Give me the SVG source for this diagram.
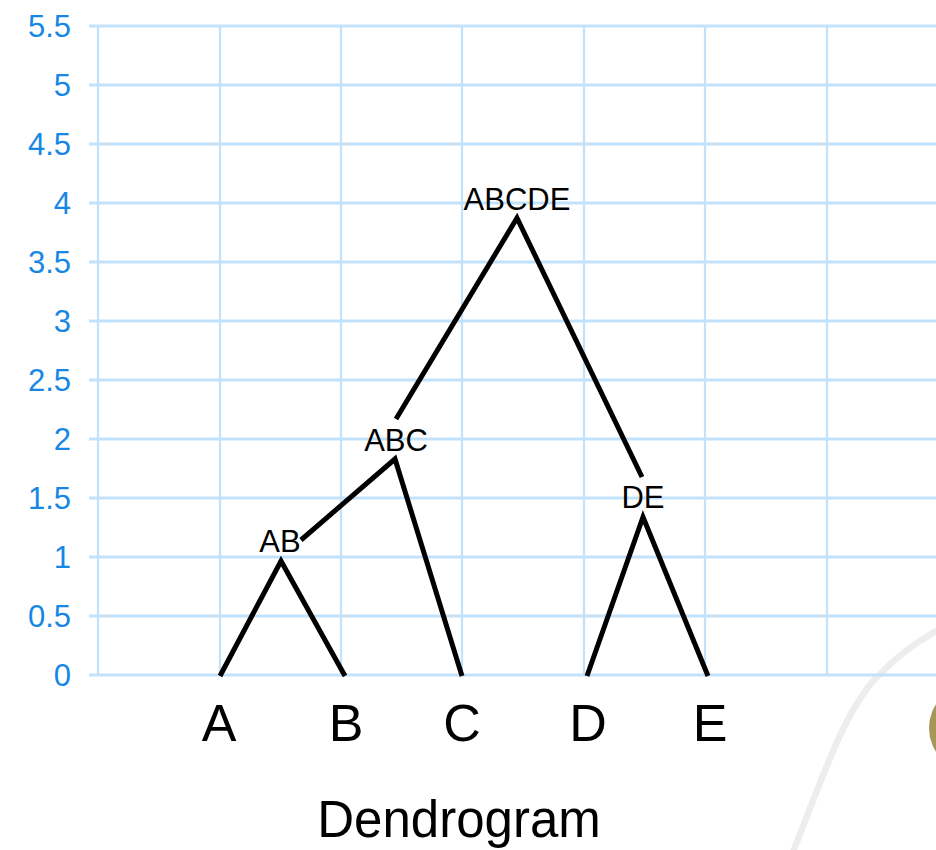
<svg xmlns="http://www.w3.org/2000/svg" width="936" height="850" viewBox="0 0 936 850">
<style>
.grid{stroke:#c2e2fb;fill:none}
.h{stroke-width:3.2}
.v{stroke-width:2.2}
.tick{font-family:"Liberation Sans",Arial,sans-serif;font-size:31px;fill:#1787e6;text-anchor:end}
.edge{stroke:#000;stroke-width:5;fill:none;stroke-linecap:butt}
.nl{font-family:"Liberation Sans",Arial,sans-serif;font-size:31px;fill:#000;text-anchor:middle}
.leaf{font-family:"Liberation Sans",Arial,sans-serif;font-size:52px;fill:#000;text-anchor:middle}
</style>
<rect width="936" height="850" fill="#fff"/>
<path d="M793 852 C825 770 845 712 875 679 C896 657 915 642 940 629" stroke="#ededeb" stroke-width="6.5" fill="none"/>
<circle cx="973" cy="728" r="44" fill="#a8955a"/>
<g id="grid">
<g class="grid h">
<line x1="89" y1="26" x2="936" y2="26"/>
<line x1="89" y1="85" x2="936" y2="85"/>
<line x1="89" y1="144" x2="936" y2="144"/>
<line x1="89" y1="203" x2="936" y2="203"/>
<line x1="89" y1="262" x2="936" y2="262"/>
<line x1="89" y1="321" x2="936" y2="321"/>
<line x1="89" y1="380" x2="936" y2="380"/>
<line x1="89" y1="439" x2="936" y2="439"/>
<line x1="89" y1="498" x2="936" y2="498"/>
<line x1="89" y1="557" x2="936" y2="557"/>
<line x1="89" y1="616" x2="936" y2="616"/>
<line x1="89" y1="675" x2="936" y2="675"/>
</g>
<g class="grid v">
<line x1="98" y1="26" x2="98" y2="676"/>
<line x1="220" y1="26" x2="220" y2="676"/>
<line x1="341" y1="26" x2="341" y2="676"/>
<line x1="462" y1="26" x2="462" y2="676"/>
<line x1="584" y1="26" x2="584" y2="676"/>
<line x1="705" y1="26" x2="705" y2="676"/>
<line x1="827" y1="26" x2="827" y2="676"/>
</g>
<g id="ticks">
<text class="tick" x="71" y="37">5.5</text>
<text class="tick" x="71" y="96">5</text>
<text class="tick" x="71" y="155">4.5</text>
<text class="tick" x="71" y="214">4</text>
<text class="tick" x="71" y="273">3.5</text>
<text class="tick" x="71" y="332">3</text>
<text class="tick" x="71" y="391">2.5</text>
<text class="tick" x="71" y="450">2</text>
<text class="tick" x="71" y="509">1.5</text>
<text class="tick" x="71" y="568">1</text>
<text class="tick" x="71" y="627">0.5</text>
<text class="tick" x="71" y="686">0</text>
</g>
</g>
<g id="connectors">
<polyline class="edge" points="220,676 281,561 345,676"/>
<polyline class="edge" points="301,540 395,459 462,676"/>
<polyline class="edge" points="396,419 517,218 642,477"/>
<polyline class="edge" points="587,676 643,517 708,676"/>
</g>
<g id="node-A"><text class="leaf" x="219" y="741">A</text></g>
<g id="node-B"><text class="leaf" x="346" y="741">B</text></g>
<g id="node-C"><text class="leaf" x="462" y="741">C</text></g>
<g id="node-D"><text class="leaf" x="588" y="741">D</text></g>
<g id="node-E"><text class="leaf" x="710" y="741">E</text></g>
<g id="node-AB"><text class="nl" x="280" y="552">AB</text></g>
<g id="node-ABC"><text class="nl" x="396" y="451">ABC</text></g>
<g id="node-DE"><text class="nl" x="643" y="508">DE</text></g>
<g id="node-ABCDE"><text class="nl" x="517" y="210">ABCDE</text></g>
<g id="title"><text x="459" y="837" font-family="Liberation Sans, Arial, sans-serif" font-size="51" text-anchor="middle" fill="#000">Dendrogram</text></g>
</svg>
